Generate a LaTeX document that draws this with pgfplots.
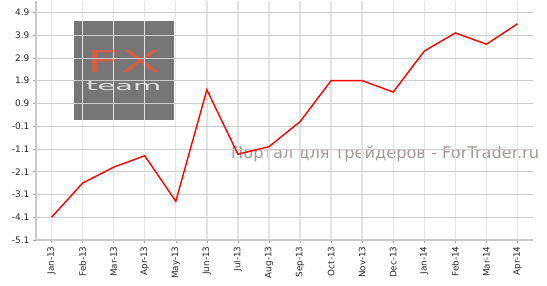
\documentclass[border=0pt]{standalone}
\usepackage{fontspec}
\setmainfont{DejaVu Sans}
\newfontfamily\wmfont{DejaVu Sans}
\newfontfamily\logofont{DejaVu Sans ExtraLight}
\usepackage{pgfplots}
\pgfplotsset{compat=1.18}
\definecolor{gridc}{RGB}{204,204,204}
\definecolor{axc}{RGB}{200,200,200}
\definecolor{logobg}{RGB}{118,118,118}
\definecolor{logored}{RGB}{205,95,75}
\definecolor{wmc}{RGB}{165,150,150}
\begin{document}
\begin{tikzpicture}
\path[use as bounding box] (-36pt,-46pt) rectangle (511pt,240pt);
% watermark behind grid
\fill[logobg] (38pt,120pt) rectangle (138pt,219pt);
\node[text=logored, inner sep=0pt, anchor=south west] at (50pt,167pt) {\resizebox{75pt}{22pt}{\wmfont FX}};
\node[text=gray!25, inner sep=0pt, anchor=south west] at (50pt,149pt) {\resizebox{75pt}{9pt}{\wmfont team}};
\node[text=wmc, font=\wmfont\fontsize{16.2}{18}\selectfont, anchor=base west, inner sep=0pt] at (195pt,81pt) {Портал для трейдеров - ForTrader.ru};
\begin{axis}[
  at={(0,0)}, anchor=south west,
  scale only axis, width=497pt, height=239pt,
  xmin=-0.5, xmax=15.5, ymin=-5.1, ymax=5.4,
  axis lines*=left,
  axis line style={axc, line width=1.6pt},
  xtick={0,...,15},
  xticklabels={Jan-13,Feb-13,Mar-13,Apr-13,May-13,Jun-13,Jul-13,Aug-13,Sep-13,Oct-13,Nov-13,Dec-13,Jan-14,Feb-14,Mar-14,Apr-14},
  x tick label style={rotate=90, anchor=east, font=\fontsize{8.8}{10}\selectfont, text=black!85},
  ytick={-5.1,-4.1,-3.1,-2.1,-1.1,-0.1,0.9,1.9,2.9,3.9,4.9},
  yticklabels={-5.1,-4.1,-3.1,-2.1,-1.1,-0.1,0.9,1.9,2.9,3.9,4.9},
  y tick label style={font=\fontsize{9}{10}\selectfont, text=black!85},
  tick align=outside, major tick length=3pt,
  tick style={gray!70, line width=0.5pt},
  grid=major,
  x grid style={gray!22, line width=1.4pt},
  y grid style={gridc, line width=0.8pt},
  clip=false,
]
\addplot[red, line width=1.4pt] coordinates {
(0,-4.1) (1,-2.6) (2,-1.9) (3,-1.4) (4,-3.4) (5,1.5) (6,-1.33) (7,-1.0)
(8,0.1) (9,1.9) (10,1.9) (11,1.4) (12,3.2) (13,4.0) (14,3.5) (15,4.4)
};
\end{axis}
\end{tikzpicture}
\end{document}
